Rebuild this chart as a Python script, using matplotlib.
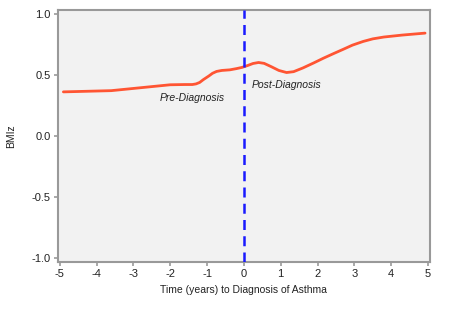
import matplotlib
matplotlib.use('Agg')
import matplotlib.pyplot as plt

# smoothed BMIz trajectory
years = [-4.9, -3.6, -2.6, -2.0, -1.6, -1.4, -1.3, -1.2, -1.1, -0.95, -0.85, -0.74,
         -0.6, -0.38, -0.2, -0.05, 0.1, 0.25, 0.4, 0.55, 0.75, 0.95, 1.16, 1.35,
         1.6, 1.9, 2.16, 2.43, 2.7, 2.95, 3.24, 3.5, 3.8, 4.3, 4.92]
bmiz = [0.36, 0.37, 0.40, 0.418, 0.42, 0.42, 0.425, 0.437, 0.46, 0.49, 0.512, 0.527,
        0.535, 0.54, 0.55, 0.56, 0.575, 0.592, 0.60, 0.593, 0.565, 0.535, 0.518, 0.525,
        0.555, 0.597, 0.635, 0.672, 0.708, 0.742, 0.772, 0.793, 0.808, 0.824, 0.84]

xticks = [-5, -4, -3, -2, -1, 0, 1, 2, 3, 4, 5]
yticks = [-1.0, -0.5, 0.0, 0.5, 1.0]

plt.rcParams['font.family'] = ['Liberation Sans', 'DejaVu Sans']

fig = plt.figure(figsize=(4.52, 3.18), dpi=100)
ax = fig.add_axes([0.128, 0.176, 0.823, 0.793])
ax.set_facecolor('#f2f2f2')

ax.plot(years, bmiz, color='#ff5533', lw=2, solid_capstyle='round',
        solid_joinstyle='round', zorder=3)
ax.axvline(0, color='#1a1aff', lw=1.8, ls=(0, (4, 2.5)), zorder=4)

ax.text(-1.41, 0.31, 'Pre-Diagnosis', style='italic', fontsize=7.5,
        color='#222222', ha='center', va='center')
ax.text(0.2, 0.42, 'Post-Diagnosis', style='italic', fontsize=7.5,
        color='#222222', ha='left', va='center')

ax.set_xlim(-5.05, 5.05)
ax.set_ylim(-1.03, 1.03)
ax.set_xticks(xticks)
ax.set_xticklabels([str(t) for t in xticks])
ax.set_yticks(yticks)
ax.set_yticklabels(['%.1f' % t for t in yticks])
ax.tick_params(colors='#999999', labelcolor='#222222', labelsize=8,
               length=3, width=1.2, pad=2)
for s in ax.spines.values():
  s.set_color('#999999')
  s.set_linewidth(1.5)

ax.set_xlabel('Time (years) to Diagnosis of Asthma', fontsize=7.5, color='#222222', labelpad=4)
ax.set_ylabel('BMIz', fontsize=7.5, color='#222222', labelpad=11)

fig.savefig('out.png', dpi=100)
